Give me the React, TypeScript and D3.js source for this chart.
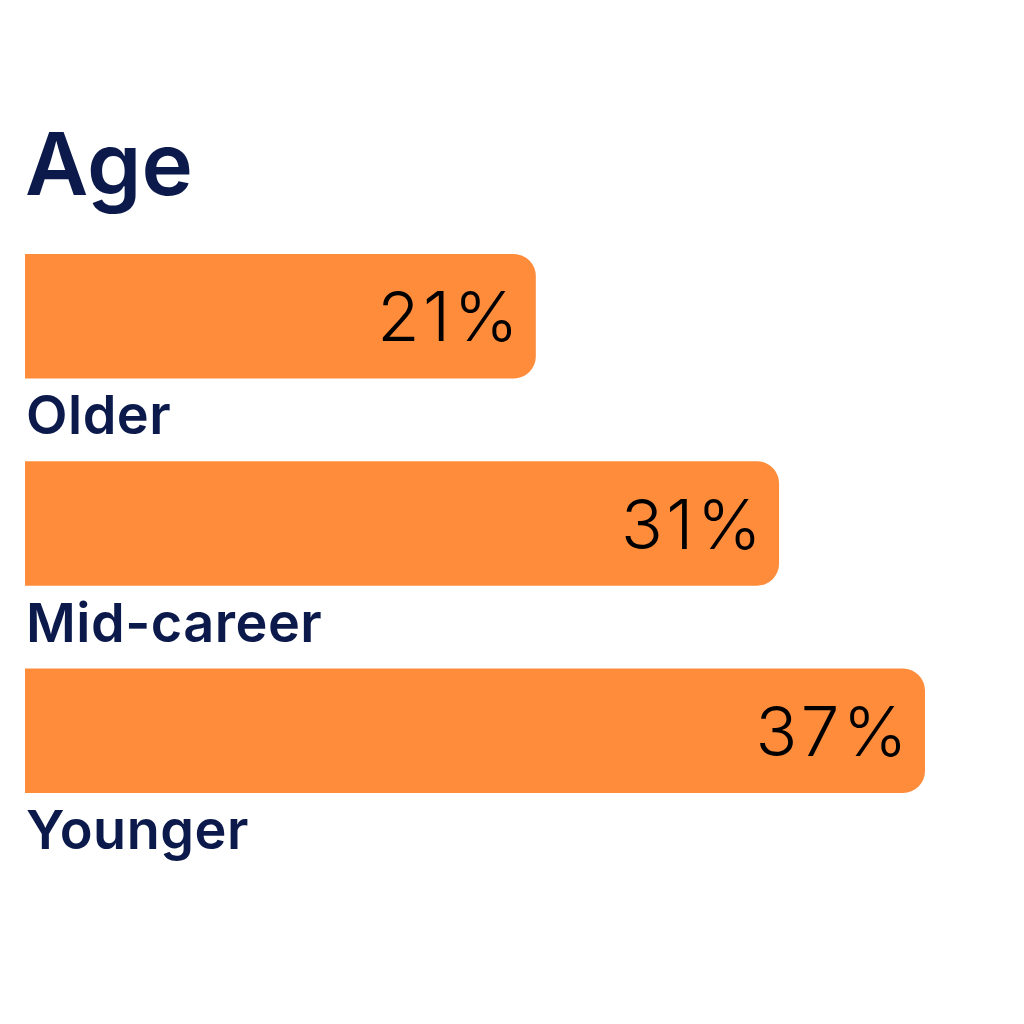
import {useMemo} from 'react'
import * as d3 from 'd3'

const categories = ['Older', 'Mid-career', 'Younger']
const values = [21, 31, 37]
const title = 'Age'

const WIDTH = 1024
const HEIGHT = 1024
const BAR_LEFT = 25
const BAR_TOP = 254
const BAR_BOTTOM = 793
const RADIUS = 22
const NAVY = '#0b1a4b'
const ORANGE = '#ff8c3b'

// rect with rounded right corners only
const barPath = (x0: number, x1: number, y0: number, y1: number, r: number) => {
  const p = d3.path()
  p.moveTo(x0, y0)
  p.lineTo(x1 - r, y0)
  p.arcTo(x1, y0, x1, y0 + r, r)
  p.lineTo(x1, y1 - r)
  p.arcTo(x1, y1, x1 - r, y1, r)
  p.lineTo(x0, y1)
  p.closePath()
  return p.toString()
}

export default function App() {
  const xScale = useMemo(
    () => d3.scaleLinear().domain([0, 37]).range([BAR_LEFT, 925]),
    []
  )
  const yScale = useMemo(
    () =>
      d3
        .scaleBand()
        .domain(categories)
        .range([BAR_TOP, BAR_BOTTOM])
        .paddingInner(0.4)
        .paddingOuter(0),
    []
  )

  const bars = categories.map((c, i) => {
    const y = yScale(c)
    if (y === undefined) return null
    const h = yScale.bandwidth()
    const x1 = xScale(values[i])
    return (
      <g key={c}>
        <path d={barPath(xScale(0), x1, y, y + h, RADIUS)} fill={ORANGE} />
        <text
          x={x1 - 14}
          y={y + h / 2 + 25}
          textAnchor="end"
          fontFamily="Inter, 'Noto Sans', sans-serif"
          fontWeight={300}
          fontSize={69}
          letterSpacing={3.5}
          fill="#000">
          {values[i]}%
        </text>
        <text
          x={BAR_LEFT + 1}
          y={y + h + 56}
          fontFamily="Inter, 'Noto Sans', sans-serif"
          fontWeight={600}
          fontSize={54}
          letterSpacing={0.5}
          fill={NAVY}>
          {c}
        </text>
      </g>
    )
  })

  return (
    <svg
      width={WIDTH}
      height={HEIGHT}
      style={{position: 'fixed', left: 0, top: 0, background: '#fff'}}>
      <text
        x={BAR_LEFT}
        y={195}
        fontFamily="Inter, 'Noto Sans', sans-serif"
        fontWeight={600}
        fontSize={87}
        letterSpacing={0}
        fill={NAVY}>
        {title}
      </text>
      {bars}
    </svg>
  )
}
